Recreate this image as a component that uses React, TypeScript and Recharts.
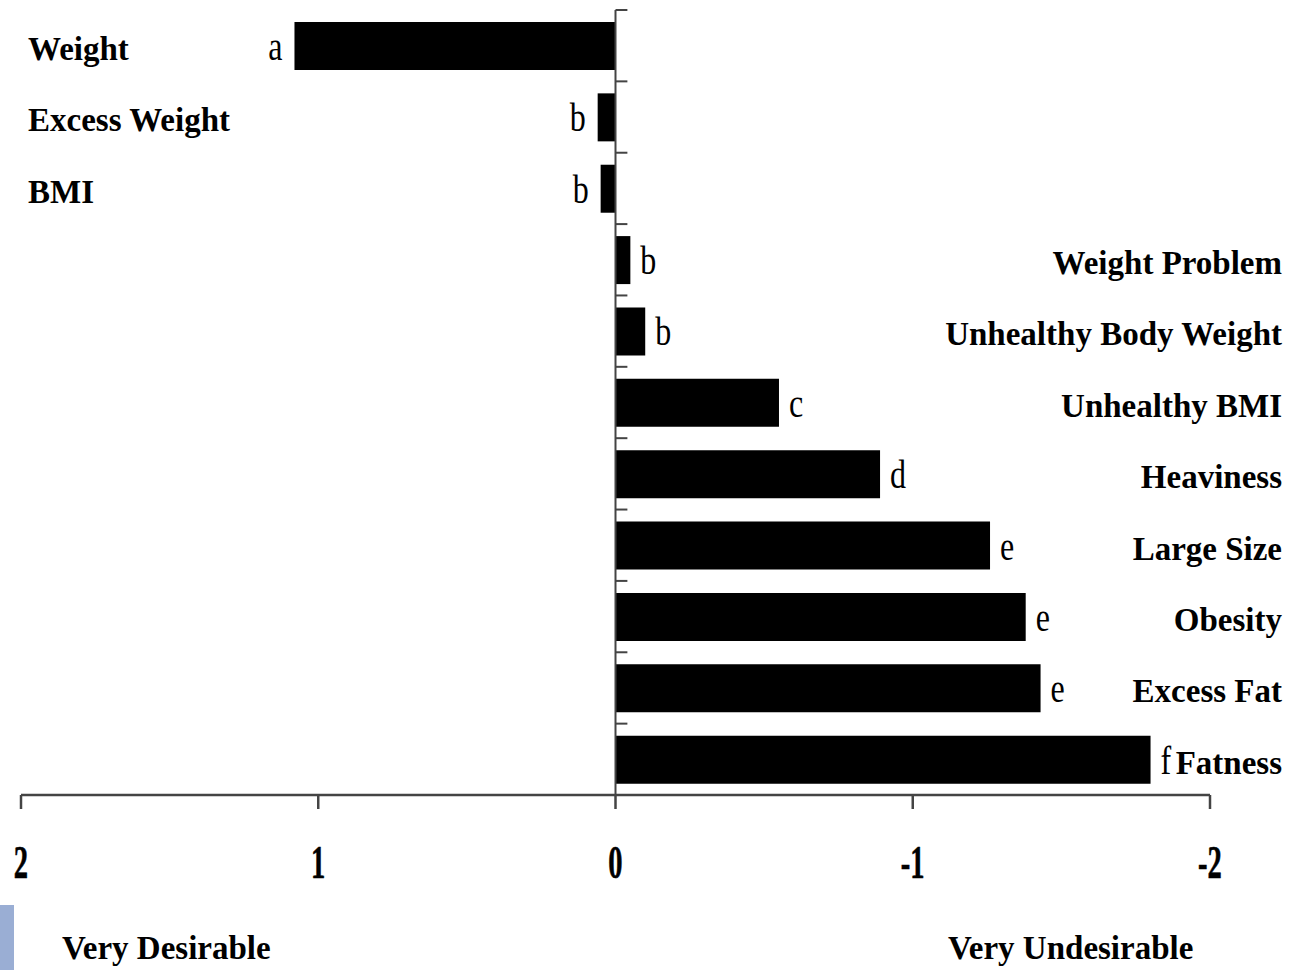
import React from "react";
import {
  BarChart, Bar, XAxis, YAxis, ReferenceLine, LabelList,
} from "recharts";

// terms, top to bottom
const terms = [
  "Weight", "Excess Weight", "BMI", "Weight Problem", "Unhealthy Body Weight",
  "Unhealthy BMI", "Heaviness", "Large Size", "Obesity", "Excess Fat", "Fatness",
];
// mean rating (positive = desirable, drawn to the left)
const ratings = [1.08, 0.06, 0.05, -0.05, -0.10, -0.55, -0.89, -1.26, -1.38, -1.43, -1.80];
// significance groups
const groups = ["a", "b", "b", "b", "b", "c", "d", "e", "e", "e", "f"];
const xTicks = [2, 1, 0, -1, -2];

const SERIF = "'Liberation Serif', 'Times New Roman', serif";
const W = 1289;
const H = 970;

const chartData = terms.map((term, i) => ({ term, rating: ratings[i], group: groups[i] }));

// term names sit at the far left or far right of the chart, level with the bar
function TermLabel(props: any) {
  const { y, height, value, index } = props;
  const onLeft = ratings[index] > 0;
  return (
    <text
      x={onLeft ? 28 : 1282}
      y={y + height / 2 + 14}
      textAnchor={onLeft ? "start" : "end"}
      fontFamily={SERIF}
      fontWeight="bold"
      fontSize={33}
      fill="#000"
    >
      {value}
    </text>
  );
}

function ValueTick({ x, y, payload }: any) {
  return (
    <g transform={`translate(${x},${y}) scale(0.62,1)`}>
      <text x={0} y={0} dy={69} textAnchor="middle" fontFamily={SERIF}
        fontWeight="bold" fontSize={46} fill="#000" stroke="#000" strokeWidth={0.6}>
        {payload.value}
      </text>
    </g>
  );
}

function GroupLabel(props: any) {
  const { x, y, width, height, value, index } = props;
  const left = Math.min(x, x + width);
  const right = Math.max(x, x + width);
  const onLeft = ratings[index] > 0;
  const tx = onLeft ? left - 12 : right + 10;
  const ty = y + height / 2 + 14;
  return (
    <g transform={`translate(${tx},${ty}) scale(0.8,1)`}>
      <text x={0} y={0} textAnchor={onLeft ? "end" : "start"} fontFamily={SERIF}
        fontSize={40} fill="#000">
        {value}
      </text>
    </g>
  );
}

export default function App() {
  return (
    <div style={{ position: "absolute", left: 0, top: 0, width: W, height: H, background: "#fff" }}>
      <BarChart
        width={W}
        height={H}
        data={chartData}
        layout="vertical"
        margin={{ top: 10, right: 79, bottom: 115, left: 21 }}
      >
        <XAxis
          type="number"
          domain={[-2, 2]}
          ticks={xTicks}
          reversed
          allowDataOverflow
          height={60}
          tickSize={14}
          tickMargin={0}
          stroke="#444"
          strokeWidth={2.5}
          tick={<ValueTick />}
        />
        <YAxis
          type="category"
          dataKey="term"
          width={0}
          axisLine={false}
          tickLine={false}
          tick={false}
        />
        <ReferenceLine x={0} stroke="#444" strokeWidth={2} />
        {terms.map((t) => (
          <ReferenceLine
            key={t}
            segment={[{ x: 0, y: t }, { x: -0.04, y: t }]}
            position="start"
            stroke="#444"
            strokeWidth={2}
          />
        ))}
        <Bar dataKey="rating" fill="#000" barSize={48} isAnimationActive={false}>
          <LabelList dataKey="group" content={<GroupLabel />} />
          <LabelList dataKey="term" content={<TermLabel />} />
        </Bar>
      </BarChart>
      <div style={{ position: "absolute", left: 62, top: 928, fontFamily: SERIF, fontWeight: "bold", fontSize: 33, lineHeight: "40px" }}>
        Very Desirable
      </div>
      <div style={{ position: "absolute", left: 948, top: 928, fontFamily: SERIF, fontWeight: "bold", fontSize: 33, lineHeight: "40px" }}>
        Very Undesirable
      </div>
      <div style={{ position: "absolute", left: 0, top: 905, width: 14, height: 65, background: "#9aaed4" }} />
    </div>
  );
}
